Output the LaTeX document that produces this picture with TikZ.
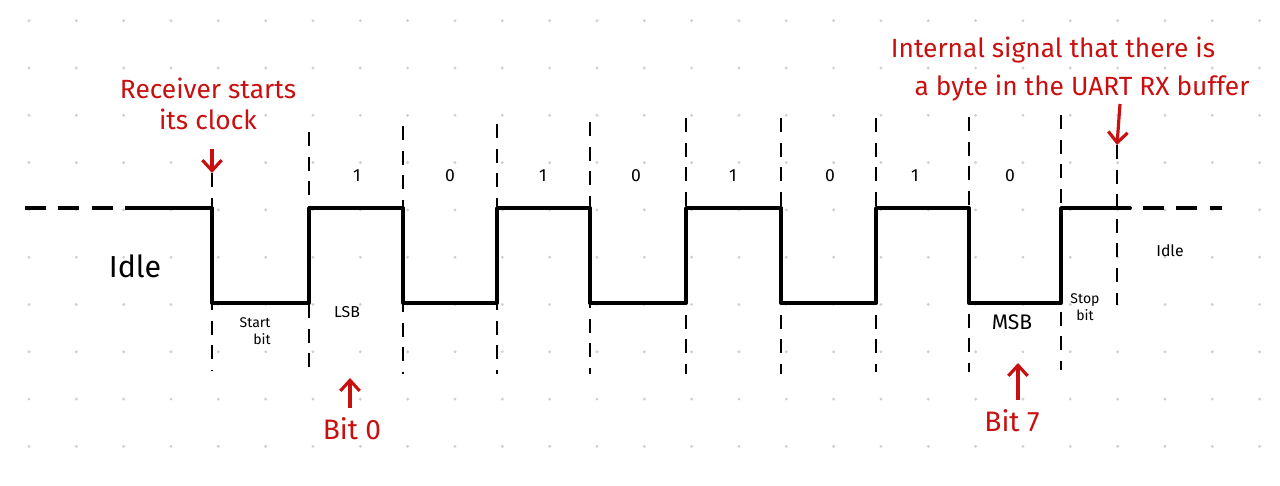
\documentclass[tikz,border=0pt]{standalone}
\usepackage{fontspec}
\setmainfont{Fira Sans}
\usepackage{tikz}
\usetikzlibrary{arrows.meta,positioning}
\definecolor{inkred}{RGB}{200,16,16}
\definecolor{griddot}{RGB}{208,208,208}

\begin{document}
\begin{tikzpicture}[x=0.02cm,y=-0.02cm,
  every node/.style={font=\small},
  wave/.style={line width=2.2pt, line join=round, line cap=round},
  idleline/.style={line width=2.2pt, dash pattern=on 12pt off 7pt},
  guide/.style={line width=1.1pt, dash pattern=on 8pt off 6pt},
  note/.style={text=inkred, font=\fontsize{15}{18}\selectfont, align=center},
  bignote/.style={text=inkred, font=\fontsize{16}{18}\selectfont},
  pointer/.style={draw=inkred, line width=1.8pt,
                  -{Straight Barb[length=6pt,width=11pt]}},
  bitval/.style={font=\fontsize{10}{12}\selectfont}
]
\useasboundingbox (0,0) rectangle (1280,486);

% dot grid
\foreach \i in {0,...,26}
  \foreach \j in {0,...,9}
    \fill[griddot] (29+47.33*\i, 20.7+47.3*\j) circle (1.6);

% bit boundaries (dashed guides)
\foreach \n/\x/\top/\bot in {0/212/173/370, 1/309/132/372, 2/403/126/374,
                             3/497/124/374, 4/590/122/374, 5/686/118/374,
                             6/781/118/374, 7/876/118/372, 8/969/117/372,
                             9/1061/115/370, 10/1117/145/305}{
  \coordinate (t\n) at (\x,\top);
  \coordinate (b\n) at (\x,\bot);
  \draw[guide] (t\n) -- (b\n);
}

% UART frame: start, 1 0 1 0 1 0 1 0, stop
\draw[idleline] (25,208) -- (130,208);
\draw[wave] (130,208) -- (212,208) -- (212,303) -- (309,303) -- (309,208)
  -- (403,208) -- (403,303) -- (497,303) -- (497,208) -- (590,208)
  -- (590,303) -- (686,303) -- (686,208) -- (781,208) -- (781,303)
  -- (876,303) -- (876,208) -- (969,208) -- (969,303) -- (1061,303)
  -- (1061,208) -- (1130,208);
\draw[idleline] (1143,208) -- (1222,208);

% data bits
\foreach \x/\v in {357/1, 450/0, 543/1, 636/0, 733/1, 830/0, 915/1, 1010/0}
  \node[bitval] at (\x,176) {\v};

% frame labels
\node[font=\LARGE] (idleL) at (135,266) {Idle};
\node[font=\footnotesize, align=center] (startbit) at (255,331) {Start\\\hspace*{1em}bit};
\node[font=\small] (lsb) at (347,312) {LSB};
\node[font=\large] (msb) at (1012,322) {MSB};
\node[font=\footnotesize, align=center] (stopbit) at (1085,307) {Stop\\bit};
\node[font=\small] (idleR) at (1170,251) {Idle};

% red notes
\node[note] (recv) at (208,104) {Receiver starts\\its clock};
\draw[pointer] ([yshift=-0.25cm]recv.south -| t0) -- (t0);

\node[note] (buf1) at (1053,50) {Internal signal that there is};
\node[note] (buf2) at (1082,88) {a byte in the UART RX buffer};
\draw[pointer] (1120,104) -- (t10);

\node[bignote] (bit0) at (352,429) {Bit 0};
\draw[pointer] (bit0.north -| 350,0) ++(0,-4) -- (350,378);

\node[bignote] (bit7) at (1012,421) {Bit 7};
\draw[pointer] (bit7.north -| 1018,0) ++(0,-4) -- (1018,363);
\end{tikzpicture}
\end{document}
